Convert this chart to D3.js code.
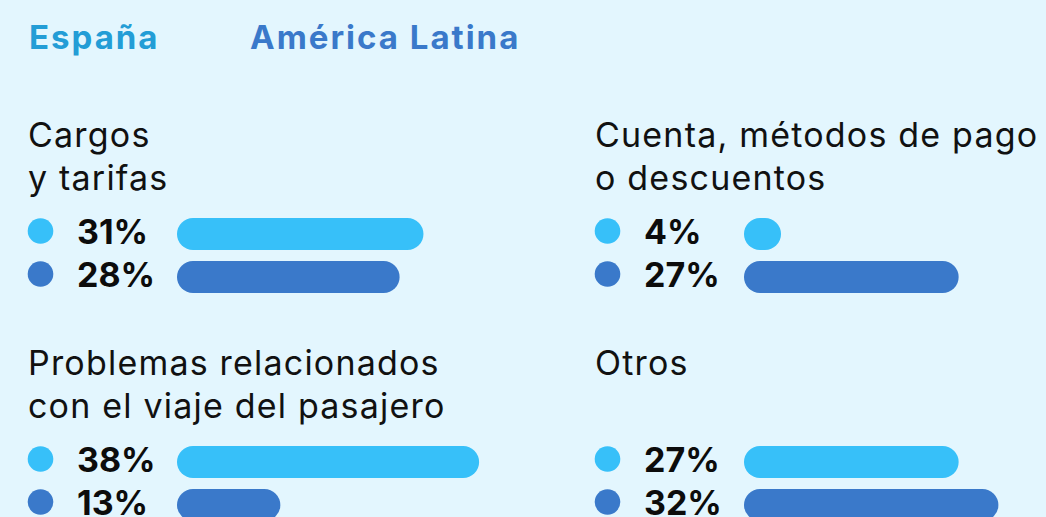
<!DOCTYPE html>
<html>
<head>
<meta charset="utf-8">
<script src="https://cdn.jsdelivr.net/npm/d3@7"></script>
<style>
  html, body { margin: 0; padding: 0; background: #e3f6fe; }
  svg { display: block; }
  text { font-family: Inter, "Noto Sans", sans-serif; }
</style>
</head>
<body>
<svg id="chart" width="1046" height="517"></svg>
<script>
// Series shown in the header legend
const seriesNames = ["España", "América Latina"];
const seriesColors = ["#37c0f9", "#3a79ca"];
const headerColors = ["#239dd6", "#3a79ca"];

// Complaint categories (title lines)
const categories = [
  ["Cargos", "y tarifas"],
  ["Cuenta, métodos de pago", "o descuentos"],
  ["Problemas relacionados", "con el viaje del pasajero"],
  ["Otros"]
];

// Share of complaints per category (%)
const espana = [31, 4, 38, 27];
const latam  = [28, 27, 13, 32];

const W = 1046, H = 517;
const svg = d3.select("#chart");
svg.append("rect").attr("width", W).attr("height", H).attr("fill", "#e3f6fe");

// Header legend
const headerX = [29, 250];
svg.selectAll("text.header")
  .data(seriesNames)
  .join("text")
  .attr("class", "header")
  .attr("x", (d, i) => headerX[i])
  .attr("y", 49)
  .attr("font-size", 33)
  .attr("font-weight", 700)
  .attr("letter-spacing", 2)
  .attr("fill", (d, i) => headerColors[i])
  .text(d => d);

// Layout of the 2x2 panel grid
const colX = [28, 595];
const rowY = [0, 228];
const barH = 32;
const barGap = 43;
const x = d3.scaleLinear().domain([0, 100]).range([0, 795]);
const minBar = 37;

const panels = categories.map((lines, i) => ({
  lines,
  values: [espana[i], latam[i]],
  x0: colX[i % 2],
  y0: rowY[Math.floor(i / 2)]
}));

const g = svg.selectAll("g.panel")
  .data(panels)
  .join("g")
  .attr("class", "panel")
  .attr("transform", d => `translate(${d.x0},${d.y0})`);

// Category titles
g.selectAll("text.title")
  .data(d => d.lines)
  .join("text")
  .attr("class", "title")
  .attr("x", 0)
  .attr("y", (d, j) => 147 + j * 43)
  .attr("font-size", 34)
  .attr("letter-spacing", 1.2)
  .attr("fill", "#111111")
  .text(d => d);

// One row per series: dot, value label, rounded bar
const rows = g.selectAll("g.row")
  .data(d => d.values.map((v, s) => ({ v, s })))
  .join("g")
  .attr("class", "row")
  .attr("transform", d => `translate(0,${218 + d.s * barGap})`);

rows.append("circle")
  .attr("cx", 12.5)
  .attr("cy", 13)
  .attr("r", 12.8)
  .attr("fill", d => seriesColors[d.s]);

rows.append("text")
  .attr("x", 49)
  .attr("y", 26)
  .attr("font-size", 34)
  .attr("font-weight", 700)
  .attr("fill", "#0c0c0c")
  .text(d => d.v + "%");

rows.append("rect")
  .attr("x", 149)
  .attr("y", 0)
  .attr("height", barH)
  .attr("width", d => Math.max(x(d.v), minBar))
  .attr("rx", barH / 2)
  .attr("ry", barH / 2)
  .attr("fill", d => seriesColors[d.s]);
</script>
</body>
</html>
